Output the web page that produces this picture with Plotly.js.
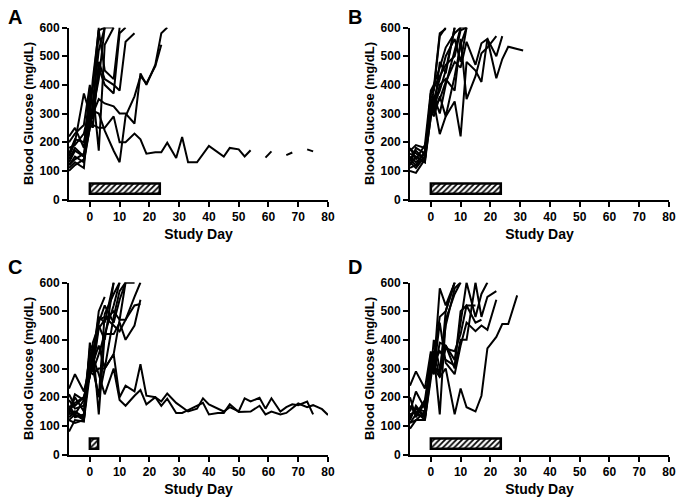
<!DOCTYPE html>
<html>
<head>
<meta charset="utf-8">
<script src="https://cdn.plot.ly/plotly-3.0.1.min.js"></script>
<style>html,body{margin:0;padding:0;background:#fff;}#chart{width:683px;height:503px;}</style>
</head>
<body>
<div id="chart"></div>
<script>
// ---------- DATA ----------
const panelLabels = ["A", "B", "C", "D"];
const xTitle = "Study Day";
const yTitle = "Blood Glucose (mg/dL)";
const xTickVals = [0, 10, 20, 30, 40, 50, 60, 70, 80];
const yTickVals = [0, 100, 200, 300, 400, 500, 600];

// treatment periods (study days)
const treatStart = [0, 0, 0, 0];
const treatEnd = [23.5, 23.5, 2.8, 23.5];

// sampling days per panel
const daysA = [-7,-5,-2,0,1,3,5,8,10,12,15,17,19,22,24,26,29,31,33,36,40,43,45,47,50,52,54,57,59,61,64,66,68,70,73,75];
const daysB = [-7,-5,-2,0,1,3,5,8,10,12,15,17,19,22,24,26,29,31];
const daysC = [-7,-5,-2,0,1,3,5,8,10,12,15,17,19,22,24,26,29,31,33,36,38,40,43,45,47,50,52,54,57,59,61,64,66,68,70,73,75,78,80];
const daysD = [-7,-5,-2,0,1,3,5,8,10,12,15,17,19,22,24,26,29];

// Panel A mice (blood glucose, mg/dL)
const a1 = [150,200,370,300,420,590,600];
const a2 = [110,130,110,350,390,600];
const a3 = [220,250,180,390,380,170,540,600];
const a4 = [130,170,150,260,300,590,450,420,600];
const a5 = [180,190,230,320,280,460,400,370,580,600];
const a6 = [120,150,130,250,340,520,600,600];
const a7 = [160,210,200,300,250,480,420,400,380,550,580];
const a8 = [140,180,150,280,300,350,335,325,300,300,265,440,400,470,580,600];
const a9 = [120,140,160,300,310,300,240,170,130,290,360,430,405,465,540];
const a10 = [100,120,140,250,260,250,250,290,200,200,230,210,160,165,165,198,145,218,130,130,187,165,150,180,175,150,172,null,146,168,null,155,164,null,175,168];
const a11 = [200,230,260,400,310,420,600];

// Panel B mice
const b1 = [120,150,130,370,380,570,600];
const b2 = [170,190,180,300,390,580,595];
const b3 = [100,93,140,330,300,480,440,600];
const b4 = [150,130,160,360,350,420,500,560,480,600];
const b5 = [180,140,190,380,400,460,530,580,600];
const b6 = [130,110,150,320,340,228,290,342,220,480,450,410,560,500,570];
const b7 = [140,170,140,300,360,300,400,520,600,600];
const b8 = [110,120,170,350,320,350,410,480,460,550,470,545,560,423,490,533,525,520];
const b9 = [160,150,130,290,330,380,450,600];
const b10 = [120,180,160,340,310,400,420,380,560,350,430,510,530,570];
const b11 = [140,120,150,310,290,360,290,430,540,600];
const b12 = [175,160,140,370,390,430,470,500,590,600];

// Panel C mice
const c1 = [80,120,115,390,330,500,550];
const c2 = [230,280,220,300,350,480,460,600];
const c3 = [140,200,150,370,380,140,420,520,600];
const c4 = [130,150,130,320,300,440,470,500,470,600,600];
const c5 = [170,140,190,350,290,350,420,420,460,400,450,540];
const c6 = [150,180,200,280,310,470,480,450,430,470,520,525];
const c7 = [120,110,120,330,310,200,490,560,600];
const c8 = [190,160,170,290,280,300,300,350,470,470,550,600];
const c9 = [160,130,140,300,320,380,300,480,570,600];
const c10 = [210,170,200,270,390,450,400,600];
const c11 = [140,150,125,360,300,460,520,460,540,600,600];
const c12 = [150,210,190,300,340,280,210,300,190,170,205,225,175,200,185,213,180,165,150,160,196,175,160,150,165,150,196,185,198,160,196,150,165,175,172,185,140];
const c13 = [120,140,120,280,300,200,300,350,200,240,220,315,205,200,170,195,145,145,155,170,180,140,145,145,175,148,150,150,170,140,150,140,145,160,178,165,172,158,138];

// Panel D mice
const d1 = [240,290,230,360,300,580,520,600];
const d2 = [130,160,150,320,350,140,470,560,600];
const d3 = [90,120,120,270,330,480,500,600];
const d4 = [200,130,180,290,400,300,370,360,420,520,520];
const d5 = [150,220,160,350,310,280,380,330,460,600,480,560,600];
const d6 = [120,170,130,300,280,390,380,300,400,400,600,480,550,570];
const d7 = [170,140,190,330,290,460,320,280,380,460,430,450,435,540];
const d8 = [140,150,120,280,300,290,450,580,600];
const d9 = [110,120,150,340,360,270,500,600];
const d10 = [130,160,130,300,320,360,330,310,500,520,460,470];
const d11 = [110,140,130,320,300,270,300,140,230,165,150,205,370,410,455,455,555];

const panelDays = [daysA, daysB, daysC, daysD];
const panelMice = [
  [a1,a2,a3,a4,a5,a6,a7,a8,a9,a10,a11],
  [b1,b2,b3,b4,b5,b6,b7,b8,b9,b10,b11,b12],
  [c1,c2,c3,c4,c5,c6,c7,c8,c9,c10,c11,c12,c13],
  [d1,d2,d3,d4,d5,d6,d7,d8,d9,d10,d11]
];

// ---------- LAYOUT / STYLE ----------
const W = 683, H = 503;
const font = "Arial, 'Liberation Sans', sans-serif";
const doms = [
  {x: [69/W, 328/W], y: [1 - 199.5/H, 1 - 27.5/H]},
  {x: [410/W, 669/W], y: [1 - 199.5/H, 1 - 27.5/H]},
  {x: [69/W, 328/W], y: [1 - 454.5/H, 1 - 282.5/H]},
  {x: [410/W, 669/W], y: [1 - 454.5/H, 1 - 282.5/H]}
];
const labelPos = [[15, 17], [355, 17], [15, 267], [355, 267]];
const boxLow = 20, boxHigh = 56;

const traces = [];
const layout = {
  width: W, height: H,
  margin: {l: 0, r: 0, t: 0, b: 0},
  paper_bgcolor: "#fff", plot_bgcolor: "#fff",
  showlegend: false,
  font: {family: font, color: "#000"},
  annotations: [],
  bargap: 0
};

for (let p = 0; p < 4; p++) {
  const sfx = p === 0 ? "" : String(p + 1);
  const xa = "x" + sfx, ya = "y" + sfx;
  const days = panelDays[p];
  // treatment box
  traces.push({
    type: "bar", xaxis: xa, yaxis: ya,
    x: [(treatStart[p] + treatEnd[p]) / 2],
    width: [treatEnd[p] - treatStart[p]],
    base: [boxLow], y: [boxHigh - boxLow],
    marker: {color: "#fff",
      pattern: {shape: "/", fgcolor: "#000", bgcolor: "#fff", size: 4, solidity: 0.45},
      line: {color: "#000", width: 2.5}},
    hoverinfo: "skip"
  });
  panelMice[p].forEach(vals => {
    traces.push({
      type: "scatter", mode: "lines", xaxis: xa, yaxis: ya,
      x: days.slice(0, vals.length), y: vals,
      connectgaps: false,
      line: {color: "#000", width: 2},
      hoverinfo: "skip"
    });
  });
  layout["xaxis" + sfx] = {
    domain: doms[p].x, anchor: ya, range: [-7, 80],
    tickvals: xTickVals, ticks: "outside", ticklen: 5, tickwidth: 2, tickcolor: "#000",
    showline: true, linewidth: 2, linecolor: "#000",
    showgrid: false, zeroline: false,
    tickfont: {family: font, size: 12, weight: 700, color: "#000"},
    title: {text: xTitle, font: {family: font, size: 14, weight: 700, color: "#000"}, standoff: 6},
    fixedrange: true
  };
  layout["yaxis" + sfx] = {
    domain: doms[p].y, anchor: xa, range: [0, 600],
    tickvals: yTickVals, ticks: "outside", ticklen: 5, tickwidth: 2, tickcolor: "#000",
    showline: true, linewidth: 2, linecolor: "#000",
    showgrid: false, zeroline: false,
    tickfont: {family: font, size: 12, weight: 700, color: "#000"},
    title: {text: yTitle, font: {family: font, size: 13, weight: 700, color: "#000"}, standoff: 3},
    fixedrange: true
  };
  layout.annotations.push({
    xref: "paper", yref: "paper", x: labelPos[p][0] / W, y: 1 - labelPos[p][1] / H,
    xanchor: "center", yanchor: "middle", showarrow: false,
    text: panelLabels[p], font: {family: font, size: 20, weight: 700, color: "#000"}
  });
}

Plotly.newPlot("chart", traces, layout, {staticPlot: true, displayModeBar: false});
</script>
</body>
</html>
